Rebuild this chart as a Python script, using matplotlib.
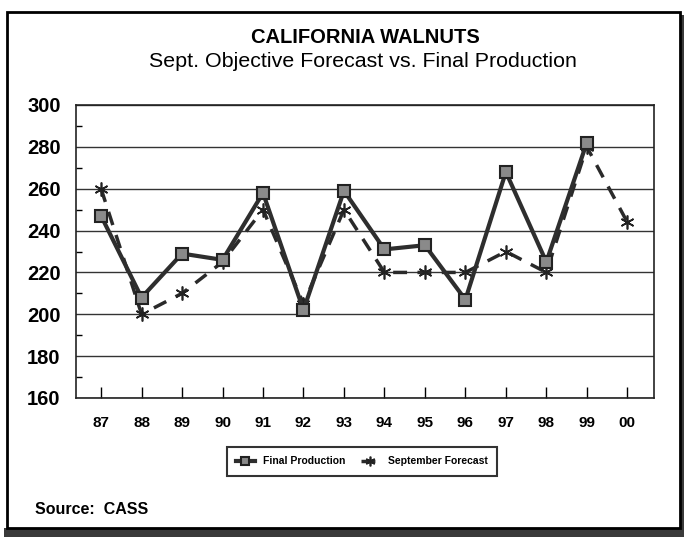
import matplotlib
matplotlib.use("Agg")
import matplotlib.pyplot as plt
from matplotlib.patches import Rectangle
from matplotlib.ticker import MultipleLocator

plt.rcParams['font.family'] = ['Liberation Sans', 'DejaVu Sans']

years = ['87', '88', '89', '90', '91', '92', '93', '94', '95', '96', '97', '98', '99', '00']
final_production = [247, 208, 229, 226, 258, 202, 259, 231, 233, 207, 268, 225, 282]
september_forecast = [260, 200, 210, 225, 250, 205, 250, 220, 220, 220, 230, 220, 280, 244]

W, H = 684, 537
fig = plt.figure(figsize=(W / 100, H / 100), dpi=100)
fig.patch.set_facecolor('white')

# shadow and frame
fig.patches.append(Rectangle((4 / W, 0), (W - 4) / W, 9 / H, transform=fig.transFigure,
                             facecolor='#3a3a3a', edgecolor='none', zorder=0))
fig.patches.append(Rectangle((680 / W, 0), 4 / W, (H - 15) / H, transform=fig.transFigure,
                             facecolor='#3a3a3a', edgecolor='none', zorder=0))
fig.patches.append(Rectangle((7 / W, 9 / H), 673 / W, (528 - 12) / H, transform=fig.transFigure,
                             facecolor='white', edgecolor='black', linewidth=2, zorder=1))

ax = fig.add_axes([76 / W, 1 - 398 / H, (654 - 76) / W, (398 - 105) / H])
ax.set_zorder(2)
x_fp = list(range(len(final_production)))
x_sf = list(range(len(september_forecast)))

ax.plot(x_sf, september_forecast, color='#2a2a2a', linewidth=2.5, linestyle=(0, (4, 3)),
        marker=(6, 2, 0), markersize=10, markeredgewidth=1.2, markeredgecolor='#222222',
        label='September Forecast', zorder=3)
ax.plot(x_fp, final_production, color='#2e2e2e', linewidth=3.0,
        marker='s', markersize=9, markerfacecolor='#8a8a8a', markeredgecolor='#222222',
        markeredgewidth=1.5, label='Final Production', zorder=4)

ax.set_xlim(-0.62, 13.66)
ax.set_ylim(160, 300)
ax.set_xticks(x_sf)
ax.set_xticklabels(years, fontsize=11, fontweight='bold')
ax.yaxis.set_major_locator(MultipleLocator(20))
ax.yaxis.set_minor_locator(MultipleLocator(10))
for lab in ax.get_yticklabels():
    lab.set_fontsize(14.5)
    lab.set_fontweight('bold')
ax.tick_params(axis='x', direction='in', length=8, width=1, pad=13)
ax.tick_params(axis='y', which='major', direction='in', length=0, pad=11)
ax.tick_params(axis='y', which='minor', direction='in', length=4, width=1)
ax.grid(axis='y', which='major', color='#333333', linewidth=1)
for s in ax.spines.values():
    s.set_linewidth(1.2)
    s.set_color('#222222')

handles, labels = ax.get_legend_handles_labels()
leg = fig.legend(handles[::-1], labels[::-1], loc='center', bbox_to_anchor=(362 / W, 1 - 461.5 / H),
                 ncol=2, frameon=True, fancybox=False, prop={'weight': 'bold', 'size': 7.5},
                 handlelength=1.8, columnspacing=1.5, borderpad=0.9, markerscale=0.7)
leg.get_frame().set_edgecolor('black')
leg.get_frame().set_linewidth(1.5)
leg.set_zorder(5)

fig.text(365 / W, 1 - 43 / H, 'CALIFORNIA WALNUTS', ha='center', va='baseline',
         fontsize=14.5, fontweight='bold', zorder=5)
fig.text(363 / W, 1 - 67 / H, 'Sept. Objective Forecast vs. Final Production', ha='center',
         va='baseline', fontsize=15.4, zorder=5)
fig.text(35 / W, 1 - 509 / H, 'Source:  CASS', ha='left', va='center',
         fontsize=11.5, fontweight='bold', zorder=5)

fig.savefig('out.png', dpi=100, facecolor='white')
